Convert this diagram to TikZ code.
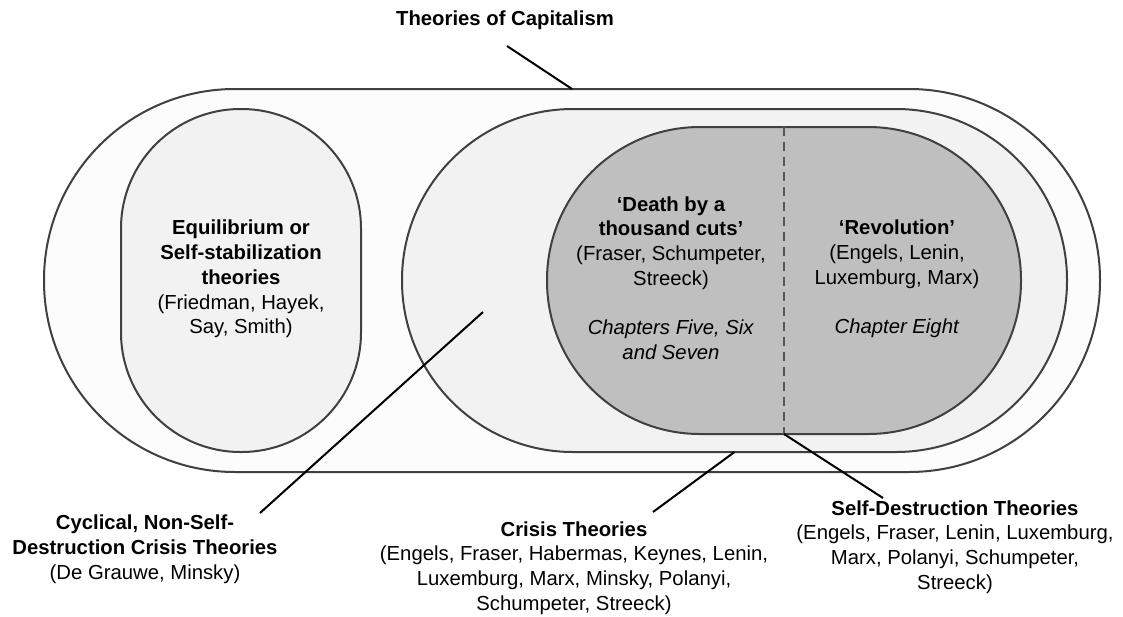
\documentclass[tikz,border=0pt]{standalone}
\usepackage{fontspec}
\setmainfont{Liberation Sans}
\definecolor{outerfill}{RGB}{252,252,252}
\definecolor{midfill}{RGB}{242,242,242}
\definecolor{innerfill}{RGB}{191,191,191}
\definecolor{edge}{RGB}{64,64,64}
\definecolor{dashcol}{RGB}{85,85,85}
\begin{document}
\begin{tikzpicture}[x=1pt,y=-1pt,
  region/.style={draw=edge, line width=2pt, inner sep=0pt, outer sep=0pt},
  label/.style={align=center, inner sep=0pt, font=\fontsize{20.3}{24.8}\selectfont},
  leader/.style={draw=black, line width=2pt}]
\useasboundingbox[fill=white] (0,0) rectangle (1123,616);
% regions
\node[region, fill=outerfill, rounded corners=191pt, minimum width=1056pt, minimum height=383pt] (outer) at (572,280.5) {};
\node[region, fill=midfill, rounded corners=119.5pt, minimum width=240pt, minimum height=343pt] (equil) at (241,280.5) {};
\node[region, fill=midfill, rounded corners=171pt, minimum width=665pt, minimum height=343pt] (crisis) at (734.5,280.5) {};
\node[region, fill=innerfill, rounded corners=153pt, minimum width=474pt, minimum height=307pt] (inner) at (784,280.5) {};
\draw[dashcol, line width=2pt, dash pattern=on 9pt off 6pt] (inner.north) -- (inner.south);
% labels
\node[label] (title) at (505,20) {\textbf{Theories of Capitalism}};
\node[label] (eqtext) at (241,279) {\textbf{Equilibrium or}\\\textbf{Self-stabilization}\\\textbf{theories}\\(Friedman, Hayek,\\Say, Smith)};
\node[label] (death) at (671,278) {\textbf{‘Death by a}\\\textbf{thousand cuts’}\\(Fraser, Schumpeter,\\Streeck)\\[24.4pt]\textit{Chapters Five, Six}\\\textit{and Seven}};
\node[label] (revo) at (897,279) {\textbf{‘Revolution’}\\(Engels, Lenin,\\Luxemburg, Marx)\\[24.4pt]\textit{Chapter Eight}};
\node[label] (cyc) at (145,549) {\textbf{Cyclical, Non-Self-}\\\textbf{Destruction Crisis Theories}\\(De Grauwe, Minsky)};
\node[label] (cri) at (574,568) {\textbf{Crisis Theories}\\(Engels, Fraser, Habermas, Keynes, Lenin,\\Luxemburg, Marx, Minsky, Polanyi,\\Schumpeter, Streeck)};
\node[label] (sd) at (955,547) {\textbf{Self-Destruction Theories}\\(Engels, Fraser, Lenin, Luxemburg,\\Marx, Polanyi, Schumpeter,\\Streeck)};
% leader ends
\coordinate (titletip) at (507,46);
\coordinate (cyctip) at (260,513);
\coordinate (cycin) at (483,312);
\coordinate (critip) at (653,512);
\coordinate (sdtip) at (883,498);
% leaders
\draw[leader] (titletip) -- (outer.north);
\draw[leader] (cyctip) -- (cycin);
\draw[leader] (critip) -- (crisis.south);
\draw[leader] (sdtip) -- (inner.south);
\end{tikzpicture}
\end{document}
